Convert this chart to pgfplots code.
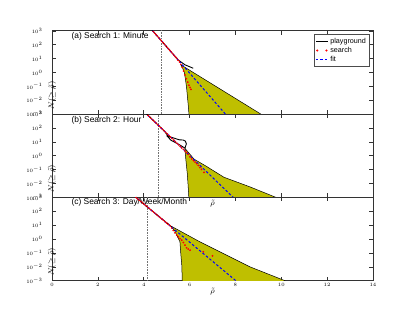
\documentclass[border=0pt]{standalone}
\usepackage{pgfplots}
\pgfplotsset{compat=1.18}
\usepackage[no-math]{fontspec}
\newfontfamily\sansf{Liberation Sans}
\definecolor{envy}{rgb}{0.75,0.75,0}

\tikzset{
 envl/.style={fill=envy, draw=black, line width=0.5pt},
 play/.style={black, line width=0.9pt},
 srch/.style={only marks, mark=*, mark size=0.65pt, red, mark options={draw=red, fill=red}},
 fitl/.style={blue, line width=1pt, dash pattern=on 2.5pt off 2pt},
 vdot/.style={black!55, line width=0.35pt, dash pattern=on 0.4pt off 1.2pt},
 lab/.style={anchor=west, font=\sansf\fontsize{8.4}{10}\selectfont},
}

\begin{document}
\begin{tikzpicture}
\useasboundingbox (0,0) rectangle (415pt,312pt);

% ---------------- panel (a)
\begin{axis}[scale only axis, width=321pt, height=83.3pt,
  xmin=0, xmax=14, ymin=1e-3, ymax=1e3, ymode=log,
  xtick={0,2,...,14}, ytick={1e-3,1e-2,1e-1,1,10,100,1000},
  minor tick length=0pt, tick align=inside, major tick length=4pt,
  tick label style={font=\fontsize{5}{6}\selectfont},
  yticklabel style={xshift=-6pt},
  axis line style={line width=0.6pt, black!80},
  every tick/.style={black!80, line width=0.5pt},
  ylabel={$N(\geq\tilde{\rho})$},
  every axis y label/.style={at={(rel axis cs:0,0.5)}, rotate=90, anchor=center, xshift=-23pt, font=\fontsize{8}{9}\selectfont},
  at={(52pt,197.9pt)}, anchor=south west, xticklabels={},
  legend style={at={(rel axis cs:0.99,0.96)}, anchor=north east,
    font=\sansf\fontsize{7.2}{8}\selectfont, draw=black!70, line width=0.6pt,
    inner sep=1.5pt, row sep=-1.5pt},
  legend cell align=left,
  ]
\addplot[envl, forget plot] coordinates {(5.62,3.55)(9.6,3.16e-4)(5.99,3.16e-4)(5.98,6.31e-4)(5.95,3.16e-3)(5.91,0.0158)(5.87,0.0794)(5.82,0.316)(5.77,1)(5.70,2.0)} --cycle;
\addplot[vdot, forget plot] coordinates {(4.77,1e-4)(4.77,1e4)};
\addplot[play, legend image code/.code={\draw[black, line width=0.9pt] (0cm,0cm) -- (0.42cm,0cm);}] coordinates {(4.2,2286)(4.8,168)(5.2,29.5)(5.5,8.0)(5.8,3.55)(6.16,2.0)};
\addlegendentry{playground}
\addplot[srch, legend image code/.code={\fill[red] (0.05cm,0cm) circle (0.7pt) (0.37cm,0cm) circle (0.7pt);}] coordinates {
(4.30,1479)(4.36,1140)(4.42,877)(4.48,676)(4.54,521)(4.60,401)(4.66,309)(4.72,238)(4.78,183)(4.84,141)(4.90,109)(4.96,83.7)(5.02,64.5)(5.08,49.7)(5.14,38.3)(5.20,29.5)(5.26,22.7)(5.32,17.5)(5.38,13.5)(5.44,10.4)(5.50,7.59)(5.56,5.62)(5.62,3.80)(5.68,2.29)(5.74,1.26)(5.80,0.661)(5.86,0.355)(5.92,0.200)(5.97,0.120)(6.02,0.0832)(6.06,0.0603)};
\addlegendentry{search}
\addplot[fitl, legend image code/.code={\draw[blue, line width=1pt, dash pattern=on 2.5pt off 2pt] (0cm,0cm) -- (0.42cm,0cm);}] coordinates {(4.0,5457)(5.0,70.3)(6.0,0.906)(7.0,0.01167)(7.7,5.55e-4)};
\addlegendentry{fit}
\node[lab] at (rel axis cs:0.05,0.93) {(a) Search 1: Minute};
\end{axis}

% ---------------- panel (b)
\begin{axis}[scale only axis, width=321pt, height=83.3pt,
  xmin=0, xmax=14, ymin=1e-3, ymax=1e3, ymode=log,
  xtick={0,2,...,14}, ytick={1e-3,1e-2,1e-1,1,10,100,1000},
  minor tick length=0pt, tick align=inside, major tick length=4pt,
  tick label style={font=\fontsize{5}{6}\selectfont},
  yticklabel style={xshift=-6pt},
  axis line style={line width=0.6pt, black!80},
  every tick/.style={black!80, line width=0.5pt},
  ylabel={$N(\geq\tilde{\rho})$},
  every axis y label/.style={at={(rel axis cs:0,0.5)}, rotate=90, anchor=center, xshift=-23pt, font=\fontsize{8}{9}\selectfont},
  at={(52pt,114.6pt)}, anchor=south west, xticklabels={},
  xlabel={$\tilde{\rho}$},
  every axis x label/.style={at={(rel axis cs:0.5,0)}, anchor=center, yshift=-6pt, font=\fontsize{8}{9}\selectfont},
  ]
\addplot[envl] coordinates {(5.80,3.39)(6.2,0.562)(6.67,0.2)(7.5,0.0282)(8.63,0.00575)(9.77,0.001)(10.52,3.16e-4)(6.0,3.16e-4)(5.97,8.3e-4)(5.94,0.00575)(5.90,0.0525)(5.84,0.479)(5.80,2.51)} --cycle;
\addplot[vdot] coordinates {(4.64,1e-4)(4.64,1e4)};
\addplot[play] coordinates {(3.9,2323)(4.6,179)(4.9,60.3)(5.07,25.1)(5.3,19.1)(5.55,14.1)(5.72,13.5)(5.82,11.2)(5.86,7.08)(5.80,3.55)(5.5,7.08)(5.2,12.6)(5.0,28.2)};
\addplot[srch] coordinates {
(4.05,1340)(4.12,1037)(4.19,804)(4.26,621)(4.33,481)(4.40,372)(4.47,288)(4.54,223)(4.61,173)(4.68,134)(4.75,103)(4.82,80.0)(4.89,61.9)(4.96,47.9)(5.03,37.1)(5.10,28.7)(5.17,22.2)(5.24,17.2)(5.31,13.3)(5.38,10.3)(5.45,7.96)(5.52,6.17)(5.59,4.77)(5.66,3.69)(5.73,2.86)(5.80,2.21)(5.87,1.71)(5.94,1.26)(6.02,0.832)(6.10,0.589)(6.17,0.447)(6.24,0.347)(6.31,0.269)(6.38,0.200)(6.45,0.141)(6.52,0.105)(6.63,0.0631)};
\addplot[fitl] coordinates {(3.9,2323)(5.0,41.4)(6.0,1.064)(7.0,0.02735)(8.0,7.03e-4)};
\node[lab] at (rel axis cs:0.05,0.93) {(b) Search 2: Hour};
\end{axis}

% ---------------- panel (c)
\begin{axis}[scale only axis, width=321pt, height=83.3pt,
  xmin=0, xmax=14, ymin=1e-3, ymax=1e3, ymode=log,
  xtick={0,2,...,14}, ytick={1e-3,1e-2,1e-1,1,10,100,1000},
  minor tick length=0pt, tick align=inside, major tick length=4pt,
  tick label style={font=\fontsize{5}{6}\selectfont},
  yticklabel style={xshift=-6pt},
  xticklabel style={yshift=1pt},
  axis line style={line width=0.6pt, black!80},
  every tick/.style={black!80, line width=0.5pt},
  ylabel={$N(\geq\tilde{\rho})$},
  every axis y label/.style={at={(rel axis cs:0,0.5)}, rotate=90, anchor=center, xshift=-23pt, font=\fontsize{8}{9}\selectfont},
  at={(52pt,31.3pt)}, anchor=south west,
  xlabel={$\tilde{\rho}$},
  every axis x label/.style={at={(rel axis cs:0.5,0)}, anchor=center, yshift=-11pt, font=\fontsize{8}{9}\selectfont},
  ]
\addplot[envl] coordinates {(5.15,9.33)(6.45,0.631)(8.63,0.01)(10.16,0.001)(10.9,3.16e-4)(5.69,3.16e-4)(5.68,0.0011)(5.66,0.0132)(5.61,0.12)(5.58,0.63)(5.51,1.096)(5.35,3.98)} --cycle;
\addplot[vdot] coordinates {(4.16,1e-4)(4.16,1e4)};
\addplot[play] coordinates {(3.4,2280)(4.2,180)(5.15,9.33)};
\addplot[srch] coordinates {
(3.60,1211)(3.67,969)(3.74,776)(3.81,621)(3.88,498)(3.95,399)(4.02,319)(4.09,256)(4.16,205)(4.23,164)(4.30,131)(4.37,105)(4.44,84.3)(4.51,67.6)(4.58,54.1)(4.65,43.3)(4.72,34.7)(4.79,27.8)(4.86,22.3)(4.93,17.8)(5.00,14.3)(5.07,11.4)(5.15,8.9)(5.22,6.31)(5.29,4.17)(5.36,2.82)(5.44,1.91)(5.51,1.41)(5.58,1.07)(5.66,0.832)(5.73,0.562)(5.80,0.363)(5.87,0.234)(5.94,0.191)(6.02,0.158)(6.6,0.120)(7.0,0.0617)};
\addplot[fitl] coordinates {(3.4,2280)(5.0,14.3)(6.0,0.600)(7.0,0.0252)(8.1,7.69e-4)};
\node[lab] at (rel axis cs:0.05,0.935) {(c) Search 3: Day/Week/Month};
\end{axis}
\end{tikzpicture}
\end{document}
